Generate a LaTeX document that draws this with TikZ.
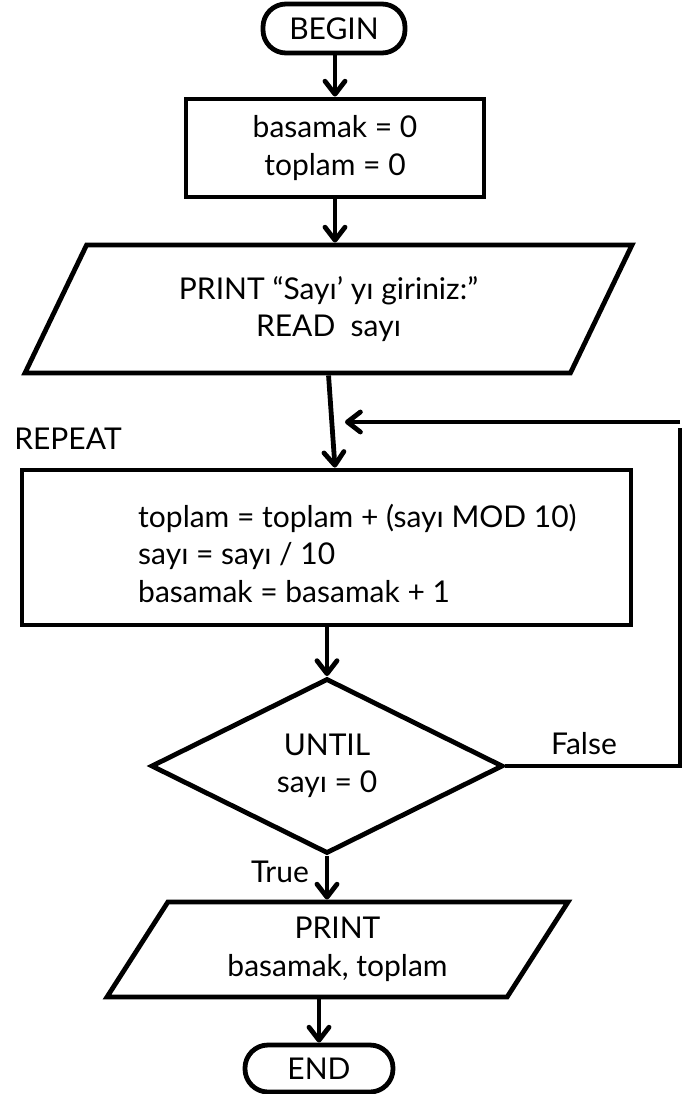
\documentclass[tikz,border=0pt]{standalone}
\usepackage{fontspec}
\setmainfont{Lato}
\usetikzlibrary{shapes.geometric,arrows.meta}
\begin{document}
\begin{tikzpicture}[x=1pt,y=-1pt,
  every node/.style={font=\fontsize{30}{37.5}\selectfont},
  lw/.style={line width=4.8pt},
  term/.style={draw, lw, rectangle, rounded corners=23pt, inner sep=0pt},
  procbox/.style={draw, lw, rectangle, inner sep=0pt},
  iobox/.style={draw, lw, trapezium, trapezium stretches body, inner sep=0pt, align=center},
  decision/.style={draw, lw, diamond, inner sep=0pt, align=center},
  flow/.style={lw, -{Straight Barb[length=13pt,width=20pt,round]}},
  plain/.style={lw, line cap=butt}
]
\useasboundingbox (0,0) rectangle (687,1094);

% terminals
\node[term, minimum width=142pt, minimum height=49pt] (begin) at (334,28.5) {BEGIN};
\node[term, minimum width=148pt, minimum height=47pt] (end) at (319,1068.5) {END};

% initialisation
\node[procbox, minimum width=298pt, minimum height=98pt, align=center] (init) at (335,148)
  {basamak = 0\\toplam = 0};

% input
\node[iobox, minimum width=607pt, minimum height=128pt,
      trapezium left angle=46.8, trapezium right angle=133.2] (input) at (328.5,309)
  {PRINT “Sayı’ yı giriniz:”\\READ\ \ sayı};

% loop body
\node (repeat) at (68,439) {REPEAT};
\node[procbox, minimum width=609pt, minimum height=155pt] (body) at (326.5,547.5) {};
\node[anchor=west, align=left, inner sep=0pt] (bodytext) at (138,553)
  {toplam = toplam + (sayı MOD 10)\\sayı = sayı / 10\\basamak = basamak + 1};

% loop condition
\node[decision, minimum width=352pt, minimum height=175pt] (until) at (327,766)
  {UNTIL\\sayı = 0};
\node (false) at (584,744) {False};
\node (true) at (280,872) {True};

% output
\node[iobox, minimum width=461pt, minimum height=95pt,
      trapezium left angle=46.5, trapezium right angle=133.5] (output) at (337.5,949.5)
  {PRINT\\basamak, toplam};

% connectors
\draw[flow] (begin.south -| init.north) -- (init.north);
\draw[flow] (init.south) -- (init.south |- input.north);
\draw[flow] (input.south) -- ([xshift=8.5pt]body.north);
\draw[flow] (body.south -| until.north) -- (until.north);
\draw[flow] (until.south) -- (until.south |- output.north);
\draw[flow] (end.north |- output.south) -- (end.north);

% back edge of the loop
\coordinate (backlow) at (680,766);
\coordinate (backhigh) at (680,428);
\coordinate (backtop) at (680,422);
\coordinate (backin) at (345,422);
\draw[plain] (until.east) -- (backlow) -- (backhigh);
\draw[flow] (backtop) -- (backin);
\end{tikzpicture}
\end{document}
